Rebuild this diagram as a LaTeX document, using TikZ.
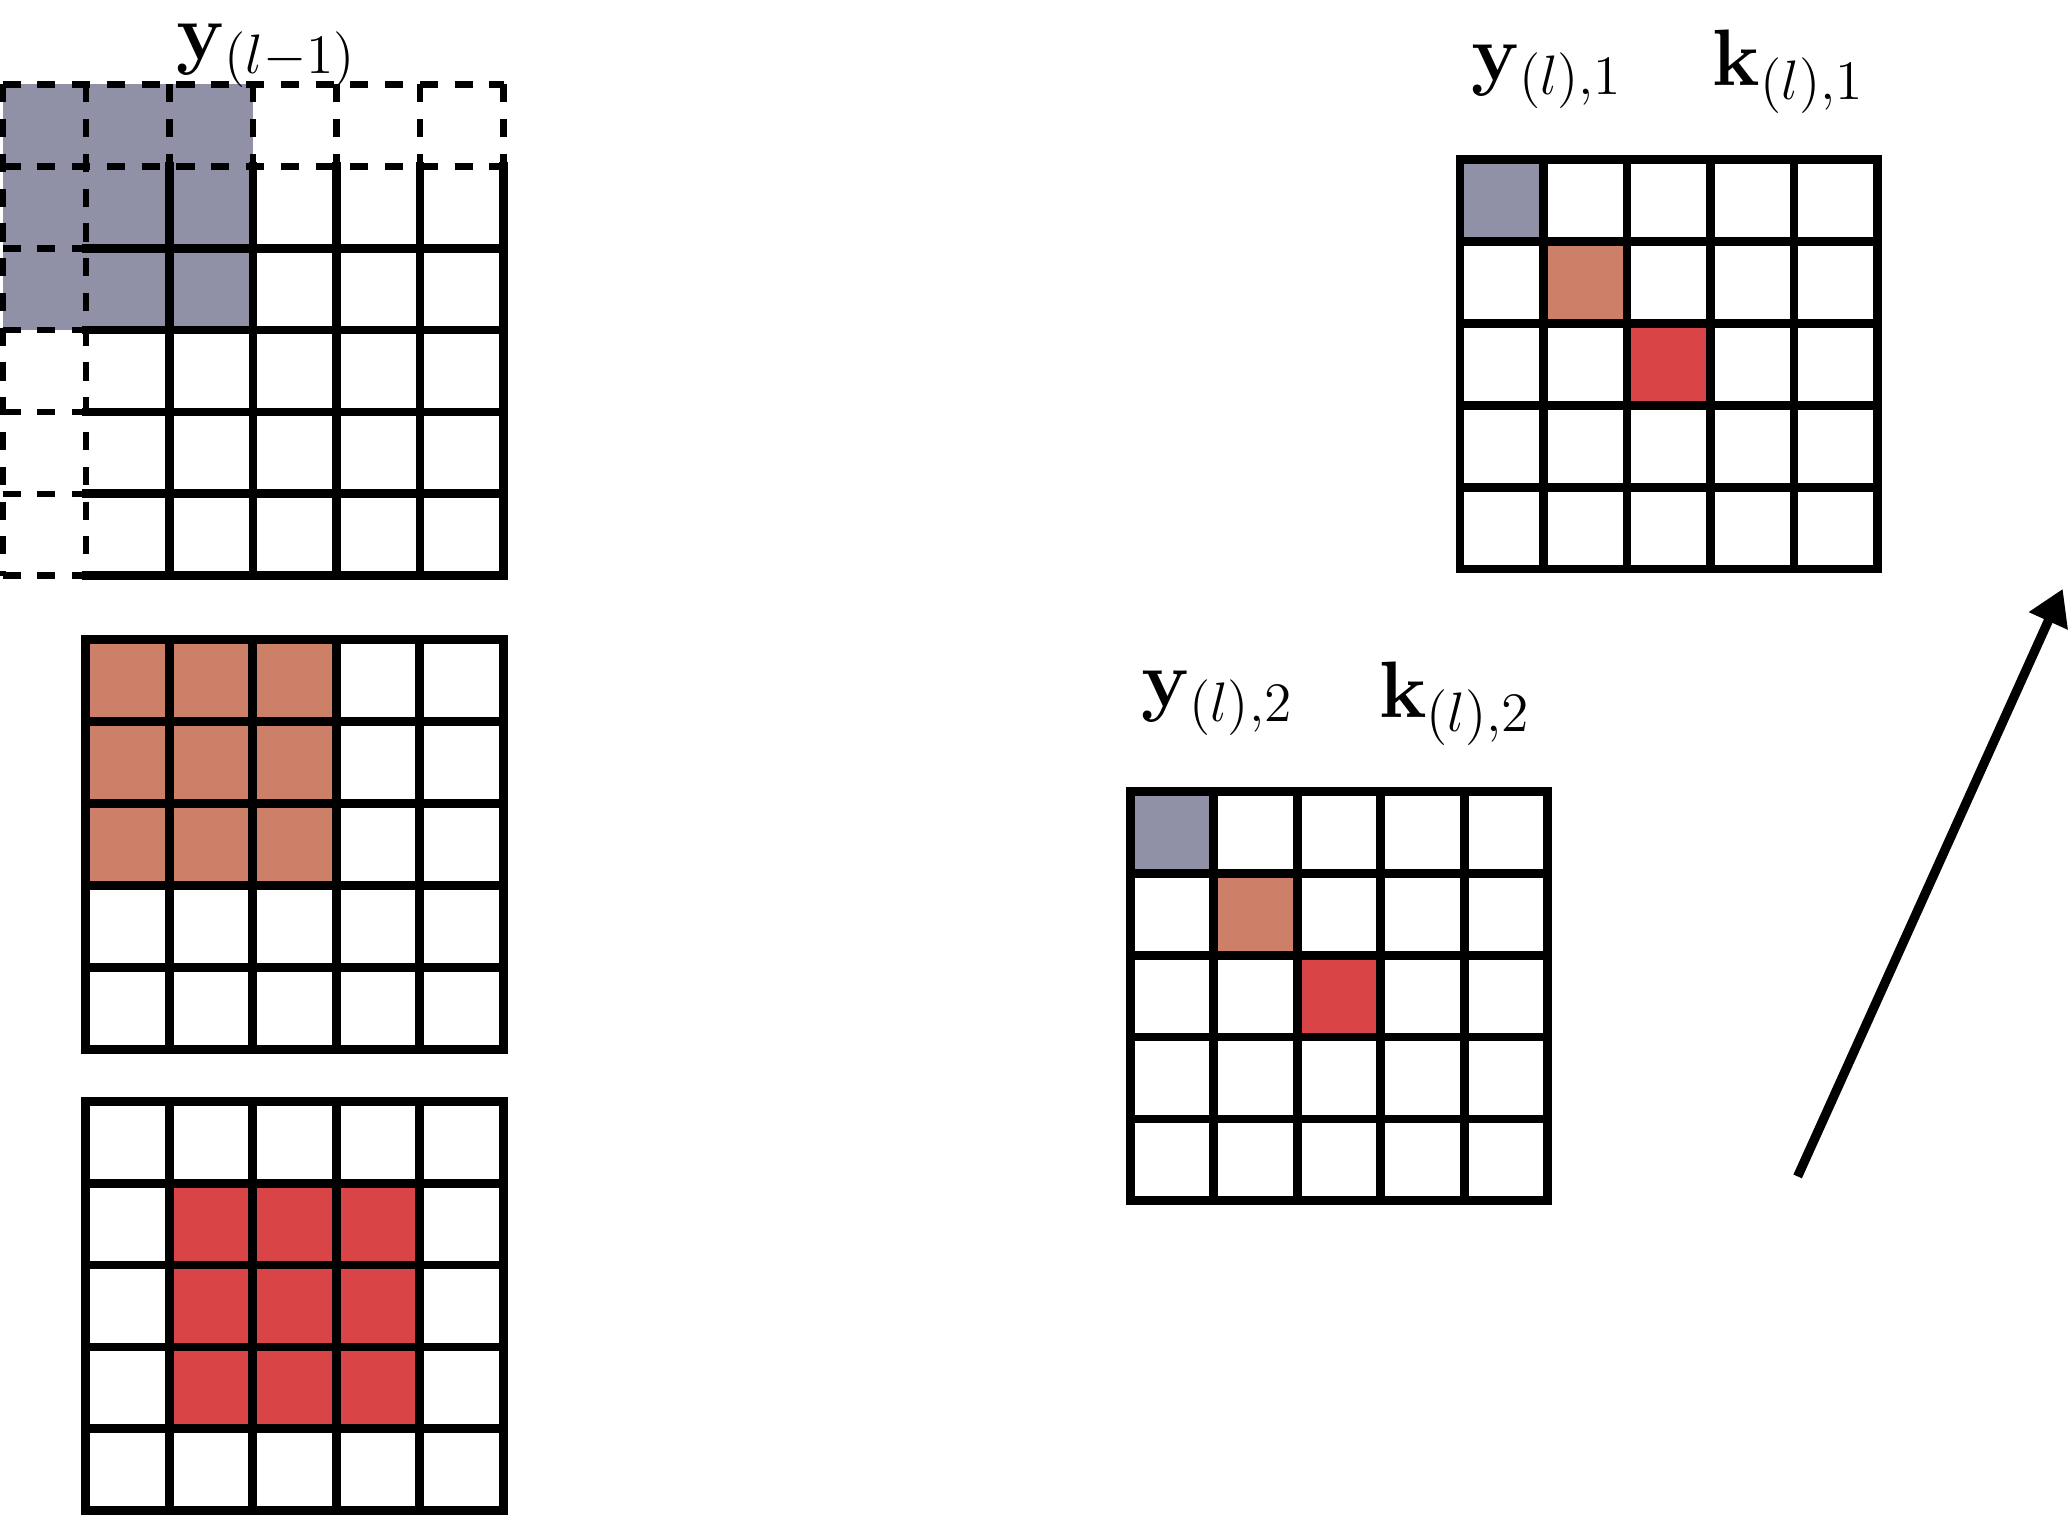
\documentclass[tikz,border=0pt]{standalone}
\usepackage{amsmath,amsfonts,amssymb}
\usepackage{xcolor}
\usetikzlibrary{positioning,arrows.meta}
\definecolor{cellgray}{RGB}{144,145,166}
\definecolor{cellorange}{RGB}{205,128,104}
\definecolor{cellred}{RGB}{217,68,70}
\tikzset{
  solidline/.style={line width=1.9pt, line cap=rect},
  padline/.style={line width=1.45pt, dash pattern=on 3.9pt off 3.6pt},
  gridlabel/.style={anchor=base west, inner sep=0pt, font=\fontsize{16.5}{20}\selectfont},
  cellbox/.style={x=0.633cm, y=-0.621cm}
}

\begin{document}
\begin{tikzpicture}
        \useasboundingbox (0,0) rectangle (15.68,11.50);
        % padded input
        \begin{scope}[shift={(0.02cm,10.86cm)}, cellbox]
            \fill[cellgray] (0,0) rectangle (3,3);
            \foreach \i in {0,1} \draw[padline] (0,\i) -- (6,\i);
            \foreach \i in {0,1} \draw[padline] (\i,0) -- (\i,6);
            \foreach \i in {2,...,6} \draw[padline] (0,\i) -- (1,\i);
            \foreach \i in {2,...,6} \draw[padline] (\i,0) -- (\i,1);
            \foreach \i in {2,...,6} \draw[solidline] (1,\i) -- (6,\i);
            \foreach \i in {2,...,6} \draw[solidline] (\i,1) -- (\i,6);
        \end{scope}
        \begin{scope}[shift={(0.65cm,6.65cm)}, cellbox]
            \fill[cellorange] (0,0) rectangle (3,3);
            \foreach \i in {0,...,5} {\draw[solidline] (0,\i) -- (5,\i); \draw[solidline] (\i,0) -- (\i,5);}
        \end{scope}
        \begin{scope}[shift={(0.65cm,3.15cm)}, cellbox]
            \fill[cellred] (1,1) rectangle (4,4);
            \foreach \i in {0,...,5} {\draw[solidline] (0,\i) -- (5,\i); \draw[solidline] (\i,0) -- (\i,5);}
        \end{scope}
        % outputs
        \begin{scope}[shift={(11.07cm,10.29cm)}, cellbox]
            \fill[cellgray] (0,0) rectangle (1,1);
            \fill[cellorange] (1,1) rectangle (2,2);
            \fill[cellred] (2,2) rectangle (3,3);
            \foreach \i in {0,...,5} {\draw[solidline] (0,\i) -- (5,\i); \draw[solidline] (\i,0) -- (\i,5);}
        \end{scope}
        \begin{scope}[shift={(8.57cm,5.50cm)}, cellbox]
            \fill[cellgray] (0,0) rectangle (1,1);
            \fill[cellorange] (1,1) rectangle (2,2);
            \fill[cellred] (2,2) rectangle (3,3);
            \foreach \i in {0,...,5} {\draw[solidline] (0,\i) -- (5,\i); \draw[solidline] (\i,0) -- (\i,5);}
        \end{scope}
        \node[gridlabel] (yprev) at (1.334,11.05) {$\mathbf{y}_{(l-1)}$};
        \node[gridlabel] (yone) at (11.15,10.89) {$\mathbf{y}_{(l),1}$};
        \node[gridlabel] (kone) at (12.98,10.85) {$\mathbf{k}_{(l),1}$};
        \node[gridlabel] (ytwo) at (8.65,6.14) {$\mathbf{y}_{(l),2}$};
        \node[gridlabel] (ktwo) at (10.45,6.06) {$\mathbf{k}_{(l),2}$};
        \coordinate (tail) at (13.63,2.58);
        \coordinate (head) at (15.64,7.035);
        \draw[-{Triangle[length=7.6pt,width=8.7pt]}, line width=2pt] (tail) -- (head);
    \end{tikzpicture}
\end{document}
